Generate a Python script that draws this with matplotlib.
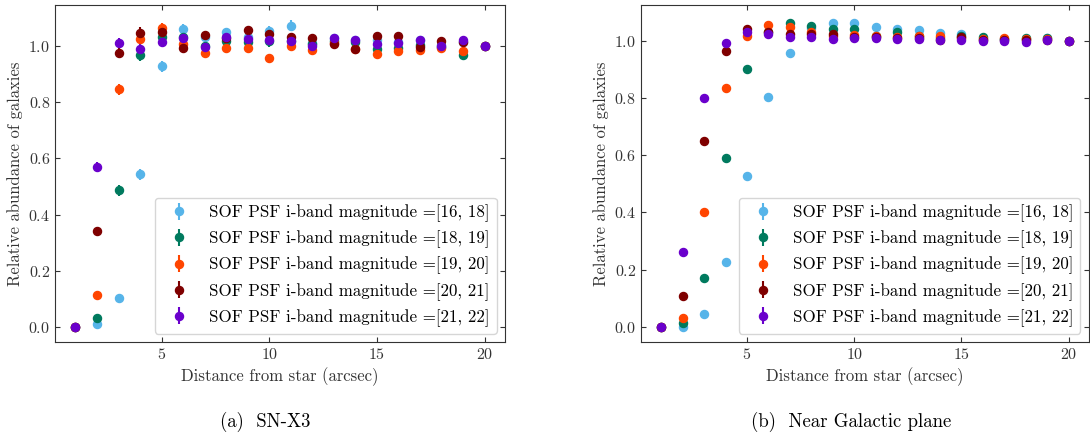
import matplotlib
matplotlib.use("Agg")
import matplotlib.pyplot as plt
import numpy as np

plt.rcParams['font.family'] = 'serif'
plt.rcParams['font.serif'] = ['cmr10', 'DejaVu Serif']
plt.rcParams['mathtext.fontset'] = 'cm'
plt.rcParams['axes.formatter.use_mathtext'] = True

# distance from star (arcsec)
dist = np.arange(1, 21)

mag_bins = ["[16, 18]", "[18, 19]", "[19, 20]", "[20, 21]", "[21, 22]"]
colors = ["#56B4E9", "#007A5E", "#FF4500", "#7F0000", "#6A00CC"]

#--------------------------------------------------------------------
# (a) SN-X3
snx3_16_18 = [0.0, 0.009, 0.101, 0.544, 0.929, 1.061, 1.034, 1.049, 1.034, 1.053,
              1.073, 1.010, 1.030, 1.022, 1.024, 1.016, 1.024, 1.005, 1.015, 1.0]
snx3_18_19 = [0.0, 0.032, 0.487, 0.969, 1.032, 1.034, 1.000, 1.020, 1.014, 1.017,
              1.020, 1.008, 1.020, 1.016, 0.991, 0.995, 1.005, 0.998, 0.969, 1.0]
snx3_19_20 = [0.0, 0.113, 0.846, 1.027, 1.064, 1.007, 0.975, 0.992, 0.992, 0.957,
              1.001, 0.985, 1.010, 0.990, 0.972, 0.982, 0.985, 0.995, 0.982, 1.0]
snx3_20_21 = [0.0, 0.342, 0.977, 1.048, 1.049, 0.995, 1.041, 1.028, 1.059, 1.043,
              1.034, 1.028, 1.008, 0.991, 1.037, 1.037, 0.998, 1.019, 1.016, 1.0]
snx3_21_22 = [0.0, 0.570, 1.013, 0.991, 1.016, 1.028, 0.998, 1.034, 1.027, 1.024,
              1.017, 1.001, 1.030, 1.022, 1.009, 1.013, 1.021, 1.001, 1.021, 1.0]

snx3_err_16_18 = [0.0, 0.008, 0.008, 0.02, 0.02, 0.02, 0.015, 0.015, 0.015, 0.02,
                  0.02, 0.012, 0.012, 0.012, 0.012, 0.012, 0.012, 0.012, 0.012, 0.0]
snx3_err_18_19 = [0.0, 0.01, 0.02, 0.02, 0.018, 0.015, 0.015, 0.015, 0.015, 0.018,
                  0.012, 0.012, 0.012, 0.012, 0.012, 0.012, 0.012, 0.012, 0.015, 0.0]
snx3_err_19_20 = [0.0, 0.008, 0.02, 0.02, 0.02, 0.015, 0.015, 0.015, 0.015, 0.015,
                  0.012, 0.012, 0.012, 0.012, 0.012, 0.012, 0.012, 0.012, 0.012, 0.0]
snx3_err_20_21 = [0.0, 0.015, 0.02, 0.02, 0.018, 0.015, 0.015, 0.015, 0.012, 0.012,
                  0.012, 0.012, 0.012, 0.012, 0.012, 0.012, 0.012, 0.012, 0.012, 0.0]
snx3_err_21_22 = [0.0, 0.018, 0.018, 0.018, 0.015, 0.015, 0.012, 0.012, 0.012, 0.012,
                  0.012, 0.012, 0.012, 0.012, 0.012, 0.012, 0.012, 0.012, 0.012, 0.0]

#--------------------------------------------------------------------
# (b) Near Galactic plane
gal_16_18 = [0.0, 0.001, 0.044, 0.225, 0.527, 0.802, 0.958, 1.045, 1.061, 1.063,
             1.047, 1.040, 1.039, 1.026, 1.023, 1.005, 1.005, 1.005, 1.008, 1.0]
gal_18_19 = [0.0, 0.015, 0.169, 0.590, 0.903, 1.030, 1.063, 1.051, 1.042, 1.042,
             1.015, 1.030, 1.015, 1.010, 1.015, 1.012, 1.005, 1.011, 1.011, 1.0]
gal_19_20 = [0.0, 0.031, 0.401, 0.836, 1.016, 1.055, 1.047, 1.030, 1.018, 1.020,
             1.015, 1.012, 1.016, 1.016, 1.010, 1.006, 1.008, 1.005, 1.005, 1.0]
gal_20_21 = [0.0, 0.107, 0.649, 0.964, 1.040, 1.029, 1.022, 1.022, 1.022, 1.012,
             1.012, 1.010, 1.010, 1.003, 1.014, 1.003, 1.002, 1.004, 1.002, 1.0]
gal_21_22 = [0.0, 0.260, 0.800, 0.993, 1.029, 1.022, 1.014, 1.014, 1.006, 1.008,
             1.008, 1.005, 1.006, 1.001, 1.003, 0.999, 1.000, 0.995, 1.003, 1.0]
gal_err = [0.0] + [0.004] * 18 + [0.0]

snx3 = [snx3_16_18, snx3_18_19, snx3_19_20, snx3_20_21, snx3_21_22]
snx3_err = [snx3_err_16_18, snx3_err_18_19, snx3_err_19_20, snx3_err_20_21, snx3_err_21_22]
gal = [gal_16_18, gal_18_19, gal_19_20, gal_20_21, gal_21_22]

#--------------------------------------------------------------------
fig = plt.figure(figsize=(10.9, 4.37), dpi=100)
ax1 = fig.add_axes([0.0505, 0.2174, 0.4128, 0.7705])
ax2 = fig.add_axes([0.588, 0.2174, 0.411, 0.7705])


def draw(ax, series, errs, ylim):
    for vals, err, c, b in zip(series, errs, colors, mag_bins):
        ax.errorbar(dist, vals, yerr=err, fmt='o', color=c, ms=5.8,
                    elinewidth=1.5, capsize=0,
                    label="SOF PSF i-band magnitude =" + b)
    ax.set_xlim(0.05, 20.95)
    ax.set_ylim(*ylim)
    ax.set_xticks([5, 10, 15, 20])
    ax.set_yticks([0.0, 0.2, 0.4, 0.6, 0.8, 1.0])
    ax.tick_params(direction='in', top=True, right=True, labelsize=11.5,
                   colors='#333333')
    for s in ax.spines.values():
        s.set_color('#333333')
    ax.set_xlabel('Distance from star (arcsec)', fontsize=12, color='#333333')
    ax.set_ylabel('Relative abundance of galaxies', fontsize=12, color='#333333')
    ax.legend(loc='lower right', fontsize=12.2, edgecolor='#cccccc')


draw(ax1, snx3, snx3_err, (-0.0545, 1.146))
draw(ax2, gal, [gal_err] * 5, (-0.053, 1.124))

fig.text(0.243, 0.034, '(a)  SN-X3', ha='center', va='center', fontsize=13.5)
fig.text(0.781, 0.034, '(b)  Near Galactic plane', ha='center', va='center', fontsize=13.5)

fig.savefig('out.png', dpi=100)
